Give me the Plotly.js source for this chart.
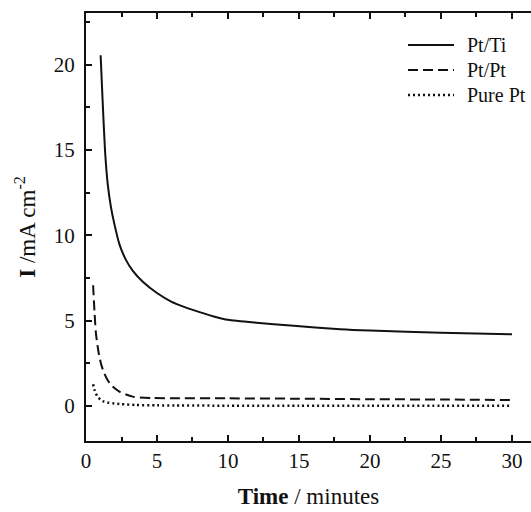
<!DOCTYPE html>
<html>
<head>
<meta charset="utf-8">
<script src="https://cdn.plot.ly/plotly-3.0.1.min.js"></script>
<style>html,body{margin:0;padding:0;background:#fff;}#chart{width:531px;height:512px;}</style>
</head>
<body>
<div id="chart"></div>
<script>
// Data
const seriesNames = ["Pt/Ti", "Pt/Pt", "Pure Pt"];

const tPtTi = [1.03, 1.17, 1.34, 1.53, 1.76, 2.0, 2.35, 2.82, 3.3, 4.0, 5.0, 6.0, 7.0, 8.0, 9.0, 10, 12, 14.4, 17.9, 20, 25, 30];
const iPtTi = [20.55, 17.9, 14.96, 13.0, 11.64, 10.66, 9.49, 8.55, 7.92, 7.28, 6.62, 6.12, 5.78, 5.5, 5.25, 5.05, 4.88, 4.72, 4.5, 4.42, 4.3, 4.2];

const tPtPt = [0.5, 0.6, 0.7, 0.82, 0.94, 1.1, 1.29, 1.5, 1.76, 2.35, 3.29, 4.69, 6.34, 10, 15, 20, 25, 30];
const iPtPt = [7.08, 5.5, 4.26, 3.5, 2.89, 2.35, 1.91, 1.55, 1.23, 0.84, 0.55, 0.47, 0.46, 0.45, 0.43, 0.4, 0.38, 0.35];

const tPure = [0.5, 0.6, 0.7, 0.82, 1.0, 1.17, 1.5, 1.88, 2.5, 3.5, 5, 6.3, 10, 15, 20, 25, 30];
const iPure = [1.28, 0.95, 0.72, 0.55, 0.39, 0.29, 0.21, 0.16, 0.11, 0.06, 0.04, 0.03, 0.02, 0.02, 0.01, 0.01, 0.01];

const xTicks = [0, 5, 10, 15, 20, 25, 30];
const yTicks = [0, 5, 10, 15, 20];

const FONT = "Liberation Serif";
const INK = "#111";
const styles = [
  {color: INK, width: 2, dash: "solid"},
  {color: INK, width: 2, dash: "10px,5px"},
  {color: INK, width: 2.5, dash: "2px,3px"}
];

const traces = [
  {x: tPtTi, y: iPtTi, name: seriesNames[0], mode: "lines", line: Object.assign({shape: "spline", smoothing: 0.6}, styles[0])},
  {x: tPtPt, y: iPtPt, name: seriesNames[1], mode: "lines", line: Object.assign({shape: "spline", smoothing: 0.6}, styles[1])},
  {x: tPure, y: iPure, name: seriesNames[2], mode: "lines", line: Object.assign({shape: "spline", smoothing: 0.6}, styles[2])}
];

// Legend drawn as paper-anchored samples + text (layout only, no data)
const legX0 = 0.7236, legX1 = 0.827, legTextX = 0.8517;
const legY = [0.9252, 0.8668, 0.8084];
const shapes = seriesNames.map((n, i) => ({
  type: "line", xref: "paper", yref: "paper", x0: legX0, x1: legX1, y0: legY[i], y1: legY[i],
  line: {color: styles[i].color, width: styles[i].width, dash: styles[i].dash}
}));
const annotations = seriesNames.map((n, i) => ({
  xref: "paper", yref: "paper", x: legTextX, y: legY[i], xanchor: "left", yanchor: "middle",
  text: n, showarrow: false, font: {family: FONT, size: 20, color: INK}
}));

const layout = {
  width: 531, height: 512,
  margin: {l: 86, r: 0, t: 13, b: 71},
  paper_bgcolor: "#fff", plot_bgcolor: "#fff",
  font: {family: FONT, color: INK, size: 21},
  showlegend: false,
  shapes: shapes,
  annotations: annotations,
  xaxis: {
    range: [0, 31.34], tickvals: xTicks, ticktext: xTicks.map(String),
    showgrid: false, zeroline: false, showline: true, linecolor: INK, linewidth: 2,
    mirror: "ticks", ticks: "inside", ticklen: 6, tickwidth: 2, tickcolor: INK,
    minor: {dtick: 2.5, ticks: "inside", ticklen: 4, tickwidth: 2, tickcolor: INK, showgrid: false},
    tickfont: {family: FONT, size: 21, color: INK}, ticklabelstandoff: 0,
    title: {text: "<b>Time</b> / minutes", font: {family: FONT, size: 23, color: INK}, standoff: 16}
  },
  yaxis: {
    range: [-2.05, 23.03], tickvals: yTicks, ticktext: yTicks.map(String),
    showgrid: false, zeroline: false, showline: true, linecolor: INK, linewidth: 2,
    ticks: "inside", ticklen: 6, tickwidth: 2, tickcolor: INK,
    minor: {dtick: 2.5, ticks: "inside", ticklen: 4, tickwidth: 2, tickcolor: INK, showgrid: false},
    tickfont: {family: FONT, size: 21, color: INK}, ticklabelstandoff: 5,
    title: {text: "<b>I</b> /mA cm<sup>-2</sup>", font: {family: FONT, size: 23, color: INK}, standoff: 12}
  }
};

Plotly.newPlot("chart", traces, layout, {displayModeBar: false, staticPlot: true});
</script>
</body>
</html>
